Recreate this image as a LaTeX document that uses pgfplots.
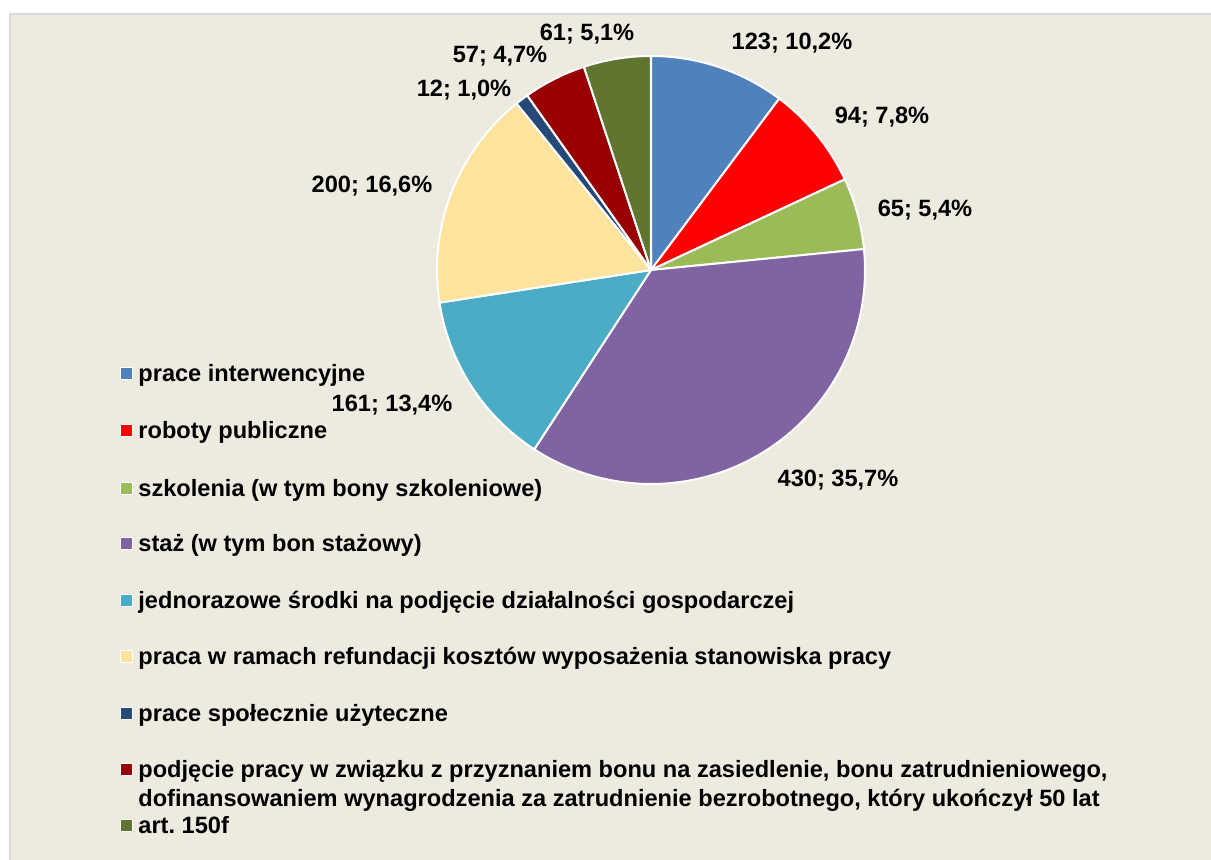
\documentclass[border=0pt]{standalone}
\usepackage{pgfplots}
\pgfplotsset{compat=1.18}
\usepackage{fontspec}
\setmainfont{Liberation Sans}
\definecolor{bg}{HTML}{EDEAE0}
\definecolor{bordergray}{HTML}{D9D9D9}
\definecolor{cA}{HTML}{4F81BD}
\definecolor{cB}{HTML}{FF0000}
\definecolor{cC}{HTML}{9BBB59}
\definecolor{cD}{HTML}{8064A2}
\definecolor{cE}{HTML}{4BACC6}
\definecolor{cF}{HTML}{FDE39B}
\definecolor{cG}{HTML}{254A78}
\definecolor{cH}{HTML}{990000}
\definecolor{cI}{HTML}{5F7530}
\newcommand\lbl{\fontsize{11.8}{14}\selectfont\bfseries}
\newcommand\legitem[3]{%
  \filldraw[fill=#1, draw=white, line width=0.5pt] (axis cs:120,#2-14) rectangle (axis cs:132,#2-2);
  \node[anchor=base west, font=\lbl, inner sep=0pt] at (axis cs:138,#2) {#3};}
\begin{document}
\begin{tikzpicture}
\begin{axis}[at={(0,0)}, anchor=south west, scale only axis,
  width=605.5pt, height=430pt,
  xmin=0, xmax=1211, ymin=0, ymax=860, y dir=reverse,
  hide axis, clip=false]
% background
\fill[white] (axis cs:0,0) rectangle (axis cs:1211,860);
\fill[bordergray] (axis cs:9,13) rectangle (axis cs:1211,860);
\fill[bg] (axis cs:11,15) rectangle (axis cs:1211,860);
% pie slices (values)
\foreach \v/\c [remember=\e as \s (initially 90)] in {123/cA,94/cB,65/cC,430/cD,161/cE,200/cF,12/cG,57/cH,61/cI}{
  \pgfmathsetmacro{\e}{\s-(\v/1203)*360}
  \edef\tmp{\noexpand\filldraw[fill=\c, draw=white, line width=1pt, line join=round] (axis cs:651,270) -- ++(\s:107pt) arc[start angle=\s, end angle=\e, radius=107pt] -- cycle;}
  \tmp
}
% data labels
\node[anchor=base, font=\lbl, inner sep=0pt] at (axis cs:792,50) {123; 10,2\%};
\node[anchor=base, font=\lbl, inner sep=0pt] at (axis cs:882,124) {94; 7,8\%};
\node[anchor=base, font=\lbl, inner sep=0pt] at (axis cs:925,217) {65; 5,4\%};
\node[anchor=base, font=\lbl, inner sep=0pt] at (axis cs:838,487) {430; 35,7\%};
\node[anchor=base, font=\lbl, inner sep=0pt] at (axis cs:392,412) {161; 13,4\%};
\node[anchor=base, font=\lbl, inner sep=0pt] at (axis cs:372,193) {200; 16,6\%};
\node[anchor=base, font=\lbl, inner sep=0pt] at (axis cs:464,97) {12; 1,0\%};
\node[anchor=base, font=\lbl, inner sep=0pt] at (axis cs:500,63) {57; 4,7\%};
\node[anchor=base, font=\lbl, inner sep=0pt] at (axis cs:587,41) {61; 5,1\%};
% legend
\legitem{cA}{382}{prace interwencyjne}
\legitem{cB}{439}{roboty publiczne}
\legitem{cC}{497}{szkolenia (w tym bony szkoleniowe)}
\legitem{cD}{552}{staż (w tym bon stażowy)}
\legitem{cE}{609}{jednorazowe środki na podjęcie działalności gospodarczej}
\legitem{cF}{665}{praca w ramach refundacji kosztów wyposażenia stanowiska pracy}
\legitem{cG}{722}{prace społecznie użyteczne}
\legitem{cH}{778}{podjęcie pracy w związku z przyznaniem bonu na zasiedlenie, bonu zatrudnieniowego,}
\node[anchor=base west, font=\lbl, inner sep=0pt] at (axis cs:138,806) {dofinansowaniem wynagrodzenia za zatrudnienie bezrobotnego, który ukończył 50 lat};
\legitem{cI}{834}{art.\ 150f}
\end{axis}
\end{tikzpicture}
\end{document}
